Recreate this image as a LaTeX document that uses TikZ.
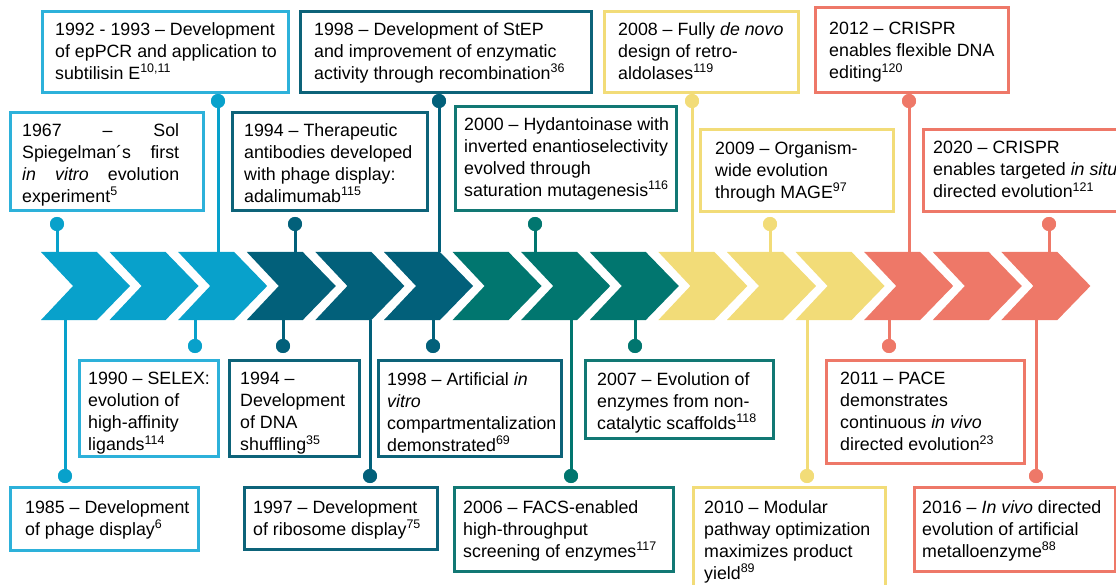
\documentclass[tikz,border=0pt]{standalone}
\usepackage{fontspec}
\setmainfont{Liberation Sans}
\usetikzlibrary{calc}
\definecolor{cA}{HTML}{08A1CB}
\definecolor{bA}{HTML}{2DB1DA}
\definecolor{cB}{HTML}{02607A}
\definecolor{bB}{HTML}{0D6379}
\definecolor{cC}{HTML}{01766F}
\definecolor{bC}{HTML}{127874}
\definecolor{cD}{HTML}{F2DC78}
\definecolor{cE}{HTML}{EE7868}
\tikzset{
  frm/.style={draw=#1, line width=3pt, inner sep=0pt, rectangle},
  txt/.style={anchor=north west, inner sep=0pt, align=left, font=\fontsize{17.8}{22}\selectfont},
  dotnode/.style={circle, fill=#1, inner sep=0pt, minimum size=14pt},
  stem/.style={draw=#1, line width=3pt},
}
% name, colour, left, top, right, bottom, text x, text y, text
\newcommand\EvBox[9]{%
  \node[frm=#2, minimum width={#5-#3}, minimum height={#6-#4}] (#1) at ({(#3+#5)/2},{(#4+#6)/2}) {};
  \node[txt] (#1t) at (#7,#8) {#9};
}
% name, colour, x, dot y, chevron edge y
\newcommand\EvStem[5]{%
  \node[dotnode=#2] (#1) at (#3,#4) {};
  \coordinate (#1e) at (#3,#5);
  \draw[stem=#2] (#1.center) -- (#1e);
  \node[dotnode=#2] at (#1.center) {};
}
\begin{document}
\begin{tikzpicture}[x=1pt,y=-1pt]
\useasboundingbox (0,0) rectangle (1116,585);
% chevrons
\foreach \k/\c in {0/cA,1/cA,2/cA,3/cB,4/cB,5/cB,6/cC,7/cC,8/cC,9/cD,10/cD,11/cD,12/cE,13/cE,14/cE}{
  \pgfmathsetmacro\L{41+68.6*\k}
  \fill[\c] (\L,252) -- ++(56,0) -- ++(33,34) -- ++(-33,34) -- ++(-56,0) -- ++(32,-34) -- cycle;
}
% stems and dots (top)
\EvStem{d1992}{cA}{218}{101}{252}
\EvStem{d1998s}{cB}{439}{101}{252}
\EvStem{d2008}{cD}{692}{101}{252}
\EvStem{d2012}{cE}{909}{101}{252}
\EvStem{d1967}{cA}{57}{224}{252}
\EvStem{d1994t}{cB}{295}{224}{252}
\EvStem{d2000}{cC}{535}{224}{252}
\EvStem{d2009}{cD}{770}{224}{252}
\EvStem{d2020}{cE}{1049}{224}{252}
% stems and dots (bottom)
\EvStem{d1990}{cA}{195}{346}{320}
\EvStem{d1994d}{cB}{283}{346}{320}
\EvStem{d1998a}{cB}{433}{346}{320}
\EvStem{d2007}{cC}{635}{346}{320}
\EvStem{d2011}{cE}{889}{346}{320}
\EvStem{d1985}{cA}{65}{476}{320}
\EvStem{d1997}{cB}{370}{476}{320}
\EvStem{d2006}{cC}{571}{476}{320}
\EvStem{d2010}{cD}{807}{476}{320}
\EvStem{d2016}{cE}{1036}{476}{320}
% top row boxes
\EvBox{b1992}{bA}{42}{12}{288}{93}{55}{22}{1992 - 1993 – Development\\of epPCR and application to\\subtilisin E\textsuperscript{10,11}}
\EvBox{b1998s}{bB}{300}{12}{591}{93}{314}{22}{1998 – Development of StEP\\and improvement of enzymatic\\activity through recombination\textsuperscript{36}}
\EvBox{b2008}{cD}{604}{12}{798}{93}{618}{22}{2008 – Fully \textit{de novo}\\design of retro-\\aldolases\textsuperscript{119}}
\EvBox{b2012}{cE}{815}{8}{1008}{93}{829}{22}{2012 – CRISPR\\enables flexible DNA\\editing\textsuperscript{120}}
% second tier top
\node[frm=bA, minimum width=193, minimum height=98] (b1967) at (106.5,162) {};
\node[txt, text width=157pt] (b1967t) at (22,123) {1967\hfill–\hfill Sol\\Spiegelman´s\hfill first\\\textit{in}\hfill\textit{vitro}\hfill evolution\\experiment\textsuperscript{5}};
\EvBox{b1994t}{bB}{232}{113}{427}{211}{244}{123}{1994 – Therapeutic\\antibodies developed\\with phage display:\\adalimumab\textsuperscript{115}}
\EvBox{b2000}{bC}{455}{107}{676}{211}{464}{117}{2000 – Hydantoinase with\\inverted enantioselectivity\\evolved through\\saturation mutagenesis\textsuperscript{116}}
\EvBox{b2009}{cD}{700}{130}{893}{212}{715}{141}{2009 – Organism-\\wide evolution\\through MAGE\textsuperscript{97}}
\EvBox{b2020}{cE}{923}{130}{1130}{212}{933}{141}{2020 – CRISPR\\enables targeted \textit{in situ}\\directed evolution\textsuperscript{121}}
% first tier bottom
\EvBox{b1990}{bA}{79}{360}{218}{456}{88}{372}{1990 – SELEX:\\evolution of\\high-affinity\\ligands\textsuperscript{114}}
\EvBox{b1994d}{bB}{229}{360}{359}{456}{240}{372}{1994 –\\Development\\of DNA\\shuffling\textsuperscript{35}}
\EvBox{b1998a}{bB}{378}{360}{561}{456}{387}{372}{1998 – Artificial \textit{in}\\\textit{vitro}\\compartmentalization\\demonstrated\textsuperscript{69}}
\EvBox{b2007}{bC}{585}{360}{773}{438}{597}{372}{2007 – Evolution of\\enzymes from non-\\catalytic scaffolds\textsuperscript{118}}
\EvBox{b2011}{cE}{826}{360}{1024}{463}{840}{372}{2011 – PACE\\demonstrates\\continuous \textit{in vivo}\\directed evolution\textsuperscript{23}}
% second tier bottom
\EvBox{b1985}{bA}{10}{487}{198}{550}{25}{500}{1985 – Development\\of phage display\textsuperscript{6}}
\EvBox{b1997}{bB}{244}{487}{437}{549}{253}{500}{1997 – Development\\of ribosome display\textsuperscript{75}}
\EvBox{b2006}{bC}{454}{487}{673}{571}{463}{500}{2006 – FACS-enabled\\high-throughput\\screening of enzymes\textsuperscript{117}}
\EvBox{b2010}{cD}{693}{487}{885}{600}{704}{500}{2010 – Modular\\pathway optimization\\maximizes product\\yield\textsuperscript{89}}
\EvBox{b2016}{cE}{914}{487}{1115}{571}{922}{500}{2016 – \textit{In vivo} directed\\evolution of artificial\\metalloenzyme\textsuperscript{88}}
\end{tikzpicture}
\end{document}
